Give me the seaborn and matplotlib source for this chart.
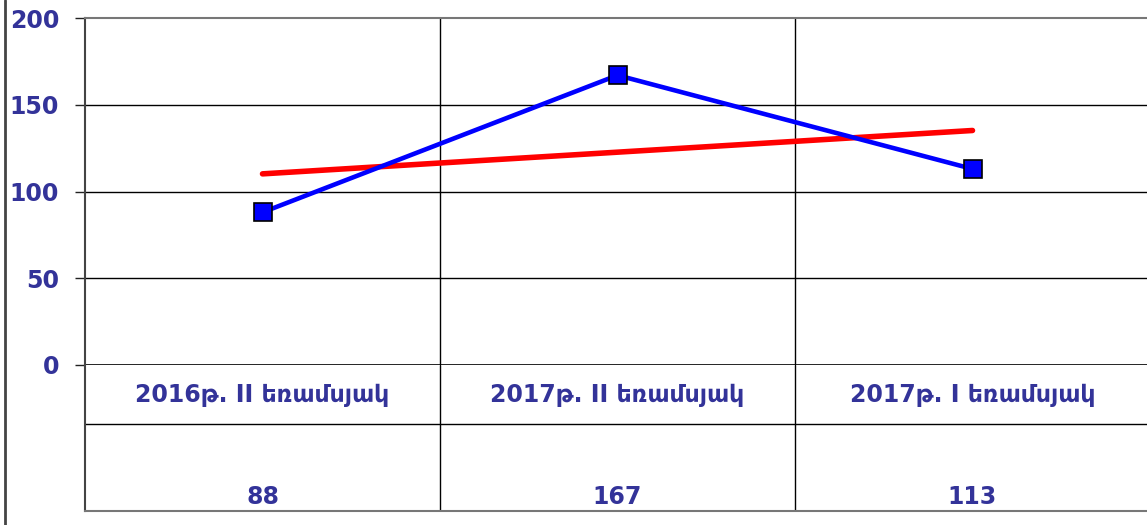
import numpy as np
import pandas as pd
import matplotlib
matplotlib.use("Agg")
import matplotlib.pyplot as plt
import seaborn as sns
from matplotlib.lines import Line2D

categories = ["2016թ. II եռամսյակ", "2017թ. II եռամսյակ", "2017թ. I եռամսյակ"]
values = [88, 167, 113]
y_ticks = [0, 50, 100, 150, 200]

sns.set_theme(style="white")
plt.rcParams["font.family"] = ["DejaVu Sans"]

TXT = "#333399"
FS = 17
W, H = 1147, 525
fig = plt.figure(figsize=(W / 100, H / 100), dpi=100)
fig.patch.set_facecolor("white")

x0, x1 = 85, 1150
ytop, yzero, ybot, ysplit = 18, 365, 511, 424
ax = fig.add_axes([x0 / W, (H - yzero) / H, (x1 - x0) / W, (yzero - ytop) / H])
tb = fig.add_axes([x0 / W, (H - ybot) / H, (x1 - x0) / W, (ybot - yzero) / H])

df = pd.DataFrame({"x": np.arange(len(categories)), "value": values})

sns.regplot(data=df, x="x", y="value", ax=ax, scatter=False, ci=None, truncate=True,
            line_kws=dict(color="#ff0000", lw=4, solid_capstyle="round", zorder=3))
sns.lineplot(data=df, x="x", y="value", ax=ax, color="#0000ff", lw=3.3, marker="s",
             markersize=13, markerfacecolor="#0000ff", markeredgecolor="black",
             markeredgewidth=1.2, zorder=4)

ax.set_xlim(-0.5, 2.5)
ax.set_ylim(0, 200)
ax.set_yticks(y_ticks)
ax.set_yticklabels([str(v) for v in y_ticks], color=TXT, fontsize=FS, fontweight="bold")
ax.tick_params(axis="y", left=True, length=7.2, width=1, color="#222222", pad=11.5)
ax.set_xticks([])
ax.set_xlabel("")
ax.set_ylabel("")
for yv in y_ticks[1:-1]:
    ax.axhline(yv, color="black", lw=1, zorder=1)
for xv in [0.5, 1.5]:
    ax.axvline(xv, color="black", lw=1, zorder=1)
for s in ["right", "bottom"]:
    ax.spines[s].set_visible(False)
ax.spines["top"].set_color("#777777")
ax.spines["top"].set_linewidth(1.5)
ax.spines["left"].set_color("#444444")
ax.spines["left"].set_linewidth(1.5)
ax.axhline(0, color="black", lw=1.2, zorder=2)

# data table
tb.set_xlim(-0.5, 2.5)
tb.set_ylim(0, 1)
tb.set_xticks([])
tb.set_yticks([])
for s in ["top", "right"]:
    tb.spines[s].set_visible(False)
tb.spines["left"].set_color("#444444")
tb.spines["left"].set_linewidth(1.5)
tb.spines["bottom"].set_color("#777777")
tb.spines["bottom"].set_linewidth(1.5)
split = (ybot - ysplit) / (ybot - yzero)
tb.axhline(split, color="black", lw=1)
for xv in [0.5, 1.5]:
    tb.axvline(xv, color="black", lw=1)
row1 = (ybot - 395) / (ybot - yzero)
row2 = (ybot - 497) / (ybot - yzero)
for i, (c, v) in enumerate(zip(categories, values)):
    tb.text(i, row1, c, ha="center", va="center", color=TXT, fontsize=FS, fontweight="bold")
    tb.text(i, row2, str(v), ha="center", va="center", color=TXT, fontsize=FS, fontweight="bold")

fig.add_artist(Line2D([5 / W, 5 / W], [0, 1], transform=fig.transFigure,
                      color="#444444", lw=2))

fig.savefig("out.png", dpi=100, facecolor="white")
